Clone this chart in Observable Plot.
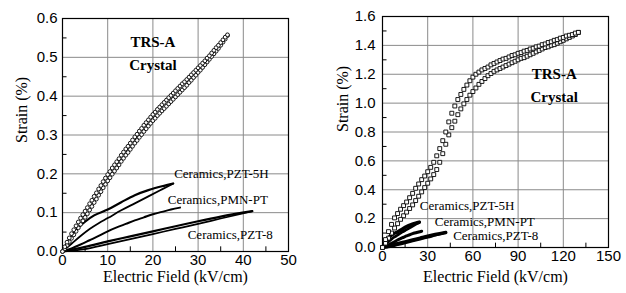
<!DOCTYPE html>
<html>
<head>
<meta charset="utf-8">
<script src="https://cdn.jsdelivr.net/npm/d3@7"></script>
<script src="https://cdn.jsdelivr.net/npm/@observablehq/plot@0.6"></script>
<style>
  html, body { margin: 0; padding: 0; background: #fff; }
  #wrap { display: flex; width: 626px; height: 293px; }
  #wrap svg { display: block; }
</style>
</head>
<body>
<div id="wrap"></div>
<script>
// ---------- Left panel crystal (0–36.5 kV/cm), two branches of the loop ----------
const crystalLField = [0,0.5,1,1.5,2,2.5,3,3.5,4,4.5,5,5.5,6,6.5,7,7.5,8,8.5,9,9.5,10,10.5,11,11.5,12,12.5,13,13.5,14,14.5,15,15.5,16,16.5,17,17.5,18,18.5,19,19.5,20,20.5,21,21.5,22,22.5,23,23.5,24,24.5,25,25.5,26,26.5,27,27.5,28,28.5,29,29.5,30,30.5,31,31.5,32,32.5,33,33.5,34,34.5,35,35.5,36,36.5];
const crystalLIncStrain = [0,0.007,0.016,0.025,0.034,0.043,0.052,0.061,0.07,0.079,0.088,0.097,0.107,0.116,0.126,0.135,0.145,0.154,0.164,0.173,0.182,0.19,0.199,0.207,0.215,0.223,0.232,0.24,0.248,0.255,0.263,0.271,0.279,0.286,0.294,0.301,0.309,0.316,0.323,0.33,0.337,0.343,0.35,0.356,0.362,0.368,0.374,0.38,0.386,0.392,0.398,0.404,0.41,0.416,0.422,0.428,0.435,0.441,0.448,0.454,0.461,0.467,0.474,0.481,0.488,0.495,0.502,0.509,0.516,0.523,0.531,0.539,0.547,0.556];
const crystalLDecStrain = [0,0.012,0.024,0.035,0.046,0.056,0.066,0.076,0.086,0.095,0.104,0.113,0.123,0.132,0.142,0.151,0.161,0.17,0.18,0.189,0.198,0.206,0.215,0.223,0.231,0.239,0.248,0.256,0.264,0.271,0.279,0.287,0.295,0.302,0.31,0.317,0.325,0.332,0.339,0.346,0.353,0.359,0.366,0.372,0.378,0.384,0.39,0.396,0.402,0.408,0.414,0.42,0.426,0.432,0.437,0.443,0.449,0.455,0.461,0.467,0.473,0.479,0.485,0.491,0.498,0.504,0.511,0.518,0.525,0.531,0.538,0.545,0.552,0.558];

// ---------- Ceramics (shared by both panels) ----------
const pzt5hUpField = [0,1,2,3,4,5,7,10,13,16,19,22,24.5];
const pzt5hUpStrain = [0,0.022,0.04,0.055,0.067,0.077,0.093,0.108,0.127,0.145,0.158,0.168,0.175];
const pzt5hLowField = [0,2,4,6,8,10,13,16,19,22,24.5];
const pzt5hLowStrain = [0,0.02,0.04,0.058,0.073,0.086,0.106,0.124,0.142,0.16,0.175];
const pmnptField = [0,2,4,6,8,10,12,14,16,18,20,22,24,26];
const pmnptStrain = [0,0.008,0.018,0.029,0.04,0.052,0.062,0.071,0.08,0.088,0.096,0.102,0.108,0.113];
const pzt8UpField = [0,5,10,15,20,25,30,35,42];
const pzt8UpStrain = [0,0.012,0.026,0.039,0.052,0.065,0.078,0.09,0.104];
const pzt8LowField = [0,5,10,15,20,25,30,35,42];
const pzt8LowStrain = [0,0.006,0.019,0.032,0.045,0.058,0.071,0.085,0.104];

// ---------- Right panel crystal (0–130 kV/cm) ----------
const crystalRField = [0,2,4,6,8,10,12,14,16,18,20,22,24,26,28,30,32,34,36,38,40,42,44,46,48,50,52,54,56,58,60,62,64,66,68,70,72,74,76,78,80,82,84,86,88,90,92,94,96,98,100,102,104,106,108,110,112,114,116,118,120,122,124,126,128,130];
const crystalRUpStrain = [0,0.055,0.11,0.16,0.205,0.235,0.265,0.29,0.315,0.345,0.375,0.41,0.44,0.47,0.495,0.525,0.555,0.59,0.635,0.685,0.74,0.8,0.87,0.93,0.98,1.025,1.06,1.095,1.125,1.155,1.18,1.2,1.215,1.23,1.24,1.25,1.265,1.275,1.285,1.295,1.305,1.31,1.32,1.33,1.335,1.345,1.35,1.36,1.365,1.375,1.38,1.39,1.395,1.405,1.41,1.42,1.425,1.435,1.44,1.45,1.455,1.465,1.47,1.475,1.485,1.49];
const crystalRLowStrain = [0,0.03,0.065,0.1,0.135,0.165,0.195,0.22,0.245,0.27,0.295,0.325,0.355,0.385,0.415,0.445,0.475,0.505,0.54,0.59,0.65,0.715,0.78,0.83,0.875,0.92,0.96,0.995,1.025,1.055,1.08,1.105,1.13,1.15,1.17,1.19,1.205,1.22,1.23,1.24,1.25,1.26,1.27,1.28,1.29,1.3,1.31,1.315,1.325,1.335,1.345,1.355,1.365,1.375,1.385,1.39,1.4,1.405,1.415,1.425,1.435,1.445,1.455,1.465,1.475,1.49];

// ---------- Ticks & labels ----------
const leftXTicks = [0,10,20,30,40,50];
const leftYTicks = [0,0.1,0.2,0.3,0.4,0.5,0.6];
const leftXMinor = [5,15,25,35,45];
const leftYMinor = [0.05,0.15,0.25,0.35,0.45,0.55];
const rightXTicks = [0,30,60,90,120,150];
const rightYTicks = [0,0.2,0.4,0.6,0.8,1.0,1.2,1.4,1.6];
const rightXMinor = [15,45,75,105,135];
const rightYMinor = [0.1,0.3,0.5,0.7,0.9,1.1,1.3,1.5];
const xTitle = "Electric Field (kV/cm)";
const yTitle = "Strain (%)";

const leftCrystalLabels = [{x: 20, y: 0.54, t: "TRS-A"}, {x: 20, y: 0.48, t: "Crystal"}];
const leftCeramicLabels = [
  {x: 24.7, y: 0.2, t: "Ceramics,PZT-5H"},
  {x: 23.3, y: 0.133, t: "Ceramics,PMN-PT"},
  {x: 27.7, y: 0.043, t: "Ceramics,PZT-8"}
];
const rightCrystalLabels = [{x: 114, y: 1.2, t: "TRS-A"}, {x: 114, y: 1.04, t: "Crystal"}];
const rightCeramicLabels = [
  {x: 24.8, y: 0.29, t: "Ceramics,PZT-5H"},
  {x: 34.7, y: 0.18, t: "Ceramics,PMN-PT"},
  {x: 46.9, y: 0.078, t: "Ceramics,PZT-8"}
];

const pts = (xs, ys) => xs.map((x, i) => ({x, y: ys[i]}));
const SERIF = "Liberation Serif";
const SANS = "Liberation Sans";

function ceramicMarks(w) {
  return [
    Plot.line(pts(pzt5hUpField, pzt5hUpStrain), {x: "x", y: "y", stroke: "black", strokeWidth: w, curve: "monotone-x"}),
    Plot.line(pts(pzt5hLowField, pzt5hLowStrain), {x: "x", y: "y", stroke: "black", strokeWidth: w * 0.8, curve: "monotone-x"}),
    Plot.line(pts(pmnptField, pmnptStrain), {x: "x", y: "y", stroke: "black", strokeWidth: w * 0.9, curve: "monotone-x"}),
    Plot.line(pts(pzt8UpField, pzt8UpStrain), {x: "x", y: "y", stroke: "black", strokeWidth: w, curve: "monotone-x"}),
    Plot.line(pts(pzt8LowField, pzt8LowStrain), {x: "x", y: "y", stroke: "black", strokeWidth: w * 0.8, curve: "monotone-x"})
  ];
}

function frameMarks(xTicks, yTicks, xMinor, yMinor, xTickLen, yTickLen, yPad, titleDy, titleDx, yTitleDy) {
  return [
    Plot.gridX(xTicks, {stroke: "#8a8a8a", strokeOpacity: 1, strokeWidth: 1}),
    Plot.gridY(yTicks, {stroke: "#8a8a8a", strokeOpacity: 1, strokeWidth: 1}),
    Plot.ruleY(yMinor, {y: d => d, x1: 0, x2: yTickLen, stroke: "black"}),
    Plot.ruleX(xMinor, {x: d => d, y1: 0, y2: xTickLen, stroke: "black"}),
    Plot.frame({stroke: "black", strokeWidth: 1.2}),
    Plot.axisX(xTicks, {tickSize: 0, tickPadding: 3, fontSize: 15, fontFamily: SANS, fill: "black", label: null, tickFormat: d => String(d)}),
    Plot.axisY(yTicks, {tickSize: 0, tickPadding: yPad, fontSize: 15, fontFamily: SANS, fill: "black", label: null, tickFormat: d3.format(".1f")}),
    Plot.text([xTitle], {text: d => d, frameAnchor: "bottom", dy: titleDy, fontSize: 16, fontFamily: SERIF, fill: "black"}),
    Plot.text([yTitle], {text: d => d, frameAnchor: "left", rotate: -90, dx: titleDx, dy: yTitleDy, fontSize: 16, fontFamily: SERIF, fill: "black"})
  ];
}

const left = Plot.plot({
  width: 313, height: 293,
  marginLeft: 62, marginRight: 25, marginTop: 18, marginBottom: 42,
  style: {background: "white", overflow: "visible", fontFamily: SERIF},
  x: {domain: [0, 50]},
  y: {domain: [0, 0.6]},
  marks: [
    ...frameMarks(leftXTicks, leftYTicks, leftXMinor, leftYMinor, 0.012, 1, 5, 30, -41, 8),
    ...ceramicMarks(2.2),
    Plot.dot(pts(crystalLField, crystalLIncStrain), {x: "x", y: "y", r: 1.9, stroke: "black", strokeWidth: 0.9, fill: "white"}),
    Plot.dot(pts(crystalLField, crystalLDecStrain), {x: "x", y: "y", r: 1.9, stroke: "black", strokeWidth: 0.9, fill: "white"}),
    Plot.text(leftCrystalLabels, {x: "x", y: "y", text: "t", fontSize: 15, fontWeight: "bold", fontFamily: SERIF, fill: "black"}),
    Plot.text(leftCeramicLabels, {x: "x", y: "y", text: "t", textAnchor: "start", fontSize: 13, fontFamily: SERIF, fill: "black"})
  ]
});

const right = Plot.plot({
  width: 313, height: 293,
  marginLeft: 69, marginRight: 18, marginTop: 16, marginBottom: 46,
  style: {background: "white", overflow: "visible", fontFamily: SERIF},
  x: {domain: [0, 150]},
  y: {domain: [0, 1.6]},
  marks: [
    ...frameMarks(rightXTicks, rightYTicks, rightXMinor, rightYMinor, 0.03, 3, 7, 34, -40, 0),
    ...ceramicMarks(3.4),
    Plot.dot(pts(crystalRField, crystalRLowStrain), {x: "x", y: "y", symbol: "square", r: 2.2, stroke: "black", strokeWidth: 0.9, fill: "white"}),
    Plot.dot(pts(crystalRField, crystalRUpStrain), {x: "x", y: "y", symbol: "square", r: 2.2, stroke: "black", strokeWidth: 0.9, fill: "white"}),
    Plot.text(rightCrystalLabels, {x: "x", y: "y", text: "t", fontSize: 15, fontWeight: "bold", fontFamily: SERIF, fill: "black"}),
    Plot.text(rightCeramicLabels, {x: "x", y: "y", text: "t", textAnchor: "start", fontSize: 13, fontFamily: SERIF, fill: "black"})
  ]
});

const wrap = document.getElementById("wrap");
wrap.appendChild(left);
wrap.appendChild(right);
</script>
</body>
</html>
